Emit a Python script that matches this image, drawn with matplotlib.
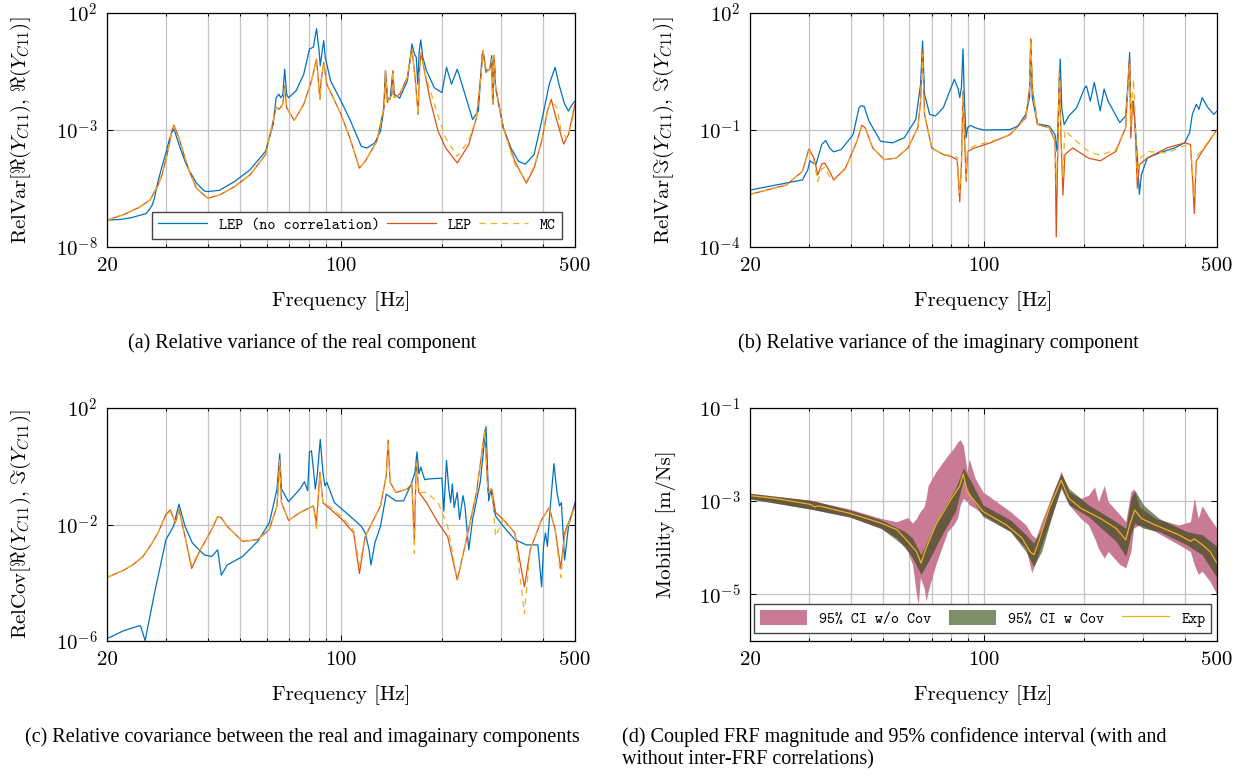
import numpy as np
import matplotlib
matplotlib.use('Agg')
import matplotlib.pyplot as plt
from matplotlib.ticker import FixedLocator, FixedFormatter, NullFormatter, NullLocator
from matplotlib.patches import Patch
from matplotlib.lines import Line2D

plt.rcParams['font.family'] = 'cmr10'
plt.rcParams['mathtext.fontset'] = 'cm'
plt.rcParams['axes.formatter.use_mathtext'] = True

BLUE = '#0072BD'
ORANGE = '#D95319'
GOLD = '#EDB120'
PINK = '#C97B95'
GREEN = '#264308'

# ============================================================
# Data (values are log10 of the plotted quantity)
# ============================================================
# (a) RelVar of real part
a_f_nc = [20.0, 22.0, 23.6, 26.2, 26.9, 27.3, 27.7, 28.4, 29.2, 30.0,
          30.7, 31.2, 31.7, 32.8, 34.2, 35.1, 37.0, 39.0, 40.0, 43.3,
          48.1, 53.5, 59.5, 62.7, 64.0, 65.2, 66.1, 67.0, 67.9, 68.8,
          69.7, 73.4, 77.4, 80.5, 82.7, 84.5, 86.0, 86.7, 87.9, 88.8,
          89.7, 93.1, 100.0, 106.3, 115.0, 119.6, 126.2, 131.2, 134.0, 135.8,
          137.6, 140.2, 142.8, 144.3, 149.7, 157.8, 162.9, 165.6, 167.8, 169.5,
          171.3, 173.1, 175.5, 180.1, 189.9, 200.2, 206.6, 213.8, 222.5, 231.4,
          247.2, 257.2, 264.1, 266.2, 271.1, 278.4, 282.1, 284.3, 286.6, 289.6,
          305.4, 321.8, 339.2, 355.5, 377.2, 397.5, 419.0, 436.0, 447.6, 465.6,
          478.1, 490.9, 500.0]
a_v_nc = [-6.85, -6.82, -6.75, -6.57, -6.35, -6.21, -5.92, -5.20, -4.56, -3.98,
          -3.41, -3.12, -2.95, -3.62, -4.34, -4.70, -5.27, -5.60, -5.63, -5.58,
          -5.20, -4.70, -3.91, -2.76, -1.62, -1.47, -1.62, -1.50, -0.40, -1.47,
          -1.62, -1.33, -0.61, 0.46, 0.54, 1.33, 0.39, -0.25, 0.39, 0.82,
          0.11, -0.90, -1.76, -2.55, -3.70, -3.77, -3.55, -3.05, -2.19, -0.47,
          -1.62, -1.69, -0.50, -1.47, -1.64, -0.90, 0.68, 0.25, 0.11, -1.04,
          0.39, 0.85, 0.11, -0.47, -1.19, -1.40, -0.32, -1.04, -0.40, -1.19,
          -2.55, -2.19, 0.25, 0.32, -0.47, -0.40, 0.18, -1.90, 0.18, -1.19,
          -2.91, -3.77, -4.34, -4.46, -4.05, -2.62, -1.04, -0.32, -1.04, -1.90,
          -2.19, -1.90, -1.76]
a_f_lep = [20.0, 22.4, 25.0, 26.9, 28.4, 29.2, 30.0, 30.7, 31.2, 31.7,
           32.8, 34.2, 35.1, 37.0, 40.0, 43.3, 48.1, 53.5, 59.5, 62.7,
           64.0, 65.2, 67.0, 67.9, 68.8, 72.5, 77.4, 81.6, 84.5, 86.5,
           87.2, 88.8, 90.7, 100.0, 106.3, 113.5, 118.1, 127.9, 134.7, 135.8,
           137.6, 142.0, 142.8, 144.3, 149.7, 157.8, 162.9, 166.4, 170.0, 171.8,
           173.6, 177.8, 184.9, 195.0, 205.5, 222.5, 240.8, 253.9, 262.0, 265.5,
           271.1, 278.4, 282.1, 283.6, 286.6, 289.6, 305.4, 330.6, 357.9, 377.2,
           397.5, 413.5, 424.6, 436.0, 453.5, 462.3, 478.1, 500.0]
a_v_lep = [-6.85, -6.62, -6.30, -5.99, -5.35, -4.92, -4.25, -3.62, -3.05, -2.79,
           -3.34, -4.20, -4.70, -5.49, -5.92, -5.78, -5.42, -4.92, -4.05, -2.62,
           -2.02, -2.12, -1.90, -1.11, -2.05, -2.59, -1.90, -0.90, 0.03, -1.69,
           -0.90, -0.11, -1.04, -2.33, -3.34, -4.63, -4.34, -3.48, -1.97, -0.47,
           -1.83, -1.47, -0.47, -1.62, -1.47, -0.75, 0.46, -0.75, -2.33, -0.32,
           0.32, -0.54, -1.76, -3.05, -3.77, -4.41, -3.62, -2.48, -0.61, 0.39,
           -0.54, -0.40, 0.03, -1.83, 0.18, -1.19, -2.91, -4.34, -5.27, -4.63,
           -3.48, -2.19, -1.69, -2.33, -3.19, -3.60, -3.19, -1.90]
a_f_mc = [20.0, 22.4, 25.0, 26.9, 28.4, 29.2, 30.0, 30.7, 31.2, 31.7,
          32.8, 34.2, 35.1, 37.0, 40.0, 43.3, 48.1, 53.5, 59.5, 62.7,
          64.0, 65.2, 67.0, 67.9, 68.8, 72.5, 77.4, 81.6, 84.5, 86.5,
          87.2, 88.8, 90.7, 100.0, 106.3, 113.5, 118.1, 127.9, 134.7, 135.8,
          137.6, 142.0, 142.8, 144.3, 149.7, 157.8, 162.9, 166.4, 170.0, 171.8,
          173.6, 177.8, 184.9, 195.0, 205.5, 222.5, 240.8, 253.9, 262.0, 265.5,
          271.1, 278.4, 282.1, 283.6, 286.6, 289.6, 305.4, 330.6, 357.9, 377.2,
          397.5, 413.5, 424.6, 441.8, 453.5, 471.8, 485.0, 500.0]
a_v_mc = [-6.85, -6.62, -6.30, -5.99, -5.35, -4.92, -4.25, -3.62, -3.08, -2.85,
          -3.34, -4.20, -4.70, -5.49, -5.92, -5.78, -5.42, -4.92, -4.05, -2.62,
          -2.02, -2.12, -1.90, -1.11, -2.05, -2.59, -1.90, -0.90, 0.03, -1.69,
          -0.90, -0.11, -1.04, -2.33, -3.34, -4.63, -4.34, -3.48, -1.97, -0.47,
          -1.83, -1.47, -0.47, -1.62, -1.47, -0.75, 0.46, -0.75, -2.33, -0.32,
          0.32, -0.54, -1.33, -2.40, -3.34, -4.13, -3.45, -2.48, -0.61, 0.39,
          -0.54, -0.40, 0.03, -1.83, 0.18, -1.19, -2.91, -4.48, -5.20, -4.56,
          -3.48, -2.19, -1.76, -2.05, -2.98, -3.37, -2.91, -2.05]

# (b) RelVar of imaginary part
b_f_nc = [20.0, 25.7, 28.7, 29.8, 30.2, 31.5, 32.8, 33.7, 34.6, 35.6,
          37.5, 40.7, 42.4, 43.0, 43.9, 45.4, 49.2, 53.4, 57.9, 62.7,
          64.8, 65.7, 66.6, 69.0, 71.8, 75.8, 80.0, 81.8, 84.0, 84.9,
          85.9, 86.8, 87.7, 88.7, 89.6, 91.6, 94.1, 100.0, 120.0, 126.7,
          133.8, 137.4, 138.5, 140.0, 145.0, 157.3, 163.8, 166.0, 168.3, 169.7,
          171.5, 174.3, 180.0, 190.0, 200.6, 203.3, 208.8, 214.6, 223.5, 229.6,
          236.0, 255.8, 266.4, 271.6, 273.8, 276.0, 281.2, 288.8, 292.8, 296.8,
          309.2, 335.2, 373.5, 400.0, 414.0, 421.8, 433.4, 441.6, 451.4, 469.9,
          489.4, 500.0]
b_v_nc = [-2.54, -2.36, -2.28, -2.02, -1.79, -1.89, -1.37, -1.27, -1.46, -1.56,
          -1.50, -1.12, -0.43, -0.38, -0.39, -0.77, -1.29, -1.33, -1.20, -0.73,
          0.17, 1.28, -0.08, -0.60, -0.64, -0.43, 0.09, 0.30, 0.05, -0.17,
          0.09, 1.08, -0.26, -1.20, -0.94, -0.88, -0.94, -1.00, -0.99, -0.90,
          -0.60, -0.17, 1.31, -0.17, -0.84, -0.90, -1.12, -1.55, 0.00, 0.82,
          -0.43, -0.86, -0.64, -0.43, 0.07, 0.13, -0.26, 0.22, -0.51, 0.05,
          -0.26, -0.81, -0.64, 0.35, 0.99, -0.43, -0.26, -1.72, -2.65, -2.15,
          -1.72, -1.59, -1.46, -1.33, -1.07, -0.60, -0.34, -0.47, -0.17, -0.43,
          -0.60, -0.51]
b_f_lep = [20.0, 25.7, 28.7, 30.0, 31.1, 31.9, 32.8, 33.5, 34.6, 35.6,
           38.6, 41.8, 43.2, 44.2, 46.6, 50.5, 54.8, 59.4, 63.6, 64.8,
           65.7, 66.6, 70.0, 75.8, 80.0, 83.4, 84.9, 85.9, 86.8, 87.7,
           88.7, 89.6, 94.1, 104.8, 120.0, 133.8, 137.4, 138.5, 140.0, 145.0,
           157.3, 163.8, 165.1, 166.9, 168.7, 170.5, 172.9, 175.2, 184.9, 206.0,
           223.5, 249.0, 266.4, 272.3, 273.8, 276.0, 279.7, 283.6, 288.8, 292.8,
           309.2, 353.8, 400.0, 416.3, 421.8, 427.6, 433.4, 451.4, 500.0]
b_v_lep = [-2.65, -2.41, -2.06, -1.49, -1.72, -2.15, -1.87, -1.85, -2.06, -2.28,
           -1.98, -1.29, -0.88, -0.94, -1.46, -1.76, -1.72, -1.46, -0.94, -0.26,
           1.04, -0.60, -1.46, -1.63, -1.68, -1.76, -2.84, -1.89, 0.00, -1.12,
           -2.32, -1.55, -1.46, -1.33, -1.12, -0.69, 0.09, 1.34, 0.09, -0.86,
           -0.94, -1.29, -3.74, -1.55, 0.52, -1.12, -2.67, -1.63, -1.46, -1.72,
           -1.79, -1.55, -0.94, 0.61, 0.82, -1.20, -0.26, -0.69, -2.49, -1.89,
           -1.72, -1.46, -1.33, -1.37, -2.15, -3.14, -1.80, -1.55, -0.99]
b_f_mc = [20.0, 25.7, 28.7, 30.0, 31.1, 31.9, 32.8, 33.5, 34.6, 35.6,
          38.6, 41.8, 43.2, 44.2, 46.6, 50.5, 54.8, 59.4, 63.6, 64.8,
          65.7, 66.6, 70.0, 75.8, 80.0, 83.4, 84.9, 85.9, 86.8, 87.7,
          88.7, 89.6, 94.1, 104.8, 120.0, 133.8, 137.4, 138.5, 140.0, 145.0,
          157.3, 163.8, 165.1, 166.9, 168.7, 170.5, 172.9, 175.2, 184.9, 206.0,
          223.5, 249.0, 266.4, 272.3, 273.8, 276.0, 281.2, 285.0, 288.8, 292.8,
          309.2, 353.8, 400.0, 416.3, 421.8, 427.6, 433.4, 451.4, 500.0]
b_v_mc = [-2.65, -2.41, -2.06, -1.52, -1.80, -2.32, -2.00, -1.95, -2.20, -2.30,
          -2.00, -1.29, -0.90, -0.95, -1.46, -1.76, -1.72, -1.46, -0.94, -0.30,
          0.95, -0.60, -1.46, -1.63, -1.65, -1.70, -2.60, -1.85, -0.10, -1.12,
          -2.20, -1.50, -1.40, -1.30, -1.12, -0.69, 0.09, 1.30, 0.09, -0.86,
          -0.94, -1.25, -2.40, -1.40, 0.45, -1.10, -2.20, -1.00, -1.20, -1.55,
          -1.65, -1.50, -0.94, 0.50, 0.70, -0.90, 0.30, -0.80, -2.20, -1.75,
          -1.55, -1.59, -1.40, -1.40, -2.00, -2.70, -1.70, -1.50, -1.00]

# (c) RelCov between real and imaginary parts
c_f_nc = [20.0, 22.4, 24.9, 25.2, 26.0, 27.7, 30.0, 31.6, 32.8, 34.2,
          36.0, 39.0, 41.1, 42.8, 43.9, 45.7, 50.8, 56.4, 61.1, 64.4,
          65.6, 66.4, 69.7, 75.4, 77.8, 79.5, 80.5, 81.6, 82.7, 83.8,
          84.9, 86.7, 88.3, 89.5, 90.7, 95.6, 106.3, 115.0, 118.1, 121.3,
          122.9, 126.2, 131.2, 136.5, 145.9, 153.7, 162.1, 166.4, 168.6, 170.9,
          173.1, 177.8, 184.9, 200.2, 202.8, 206.6, 209.9, 212.6, 215.0, 217.8,
          222.5, 226.0, 231.4, 234.5, 240.8, 247.2, 260.6, 271.1, 276.2, 279.9,
          289.6, 305.4, 330.6, 357.9, 387.3, 397.5, 402.7, 408.1, 413.5, 421.2,
          432.6, 441.8, 449.4, 455.3, 465.6, 478.1, 500.0]
c_v_nc = [-5.92, -5.65, -5.48, -5.48, -5.99, -4.38, -2.52, -2.06, -1.30, -2.06,
          -2.64, -3.04, -3.10, -2.87, -3.74, -3.39, -3.10, -2.58, -1.94, -0.78,
          0.43, -0.78, -1.22, -0.78, -0.53, -0.84, 0.49, 0.53, -0.09, -0.78,
          -0.32, 0.92, -0.20, -0.67, -0.55, -1.25, -1.71, -2.06, -2.29, -2.87,
          -3.39, -2.64, -2.06, -0.96, -1.19, -1.19, -0.61, -0.20, 0.49, -0.26,
          -0.03, -0.46, -0.43, -0.41, -1.54, 0.20, -0.78, -1.25, -0.61, -1.42,
          -0.90, -1.83, -1.01, -1.36, -2.87, -1.83, -0.55, 1.36, -1.19, -0.78,
          -1.71, -2.06, -2.52, -2.70, -2.70, -4.14, -2.75, -2.29, -2.75, -1.48,
          0.09, -0.90, -1.36, -1.25, -3.22, -2.06, -1.25]
c_f_lep = [20.0, 22.4, 24.0, 25.6, 27.0, 28.4, 30.0, 30.9, 32.0, 32.8,
           34.2, 35.8, 38.0, 41.1, 42.8, 43.9, 45.7, 50.8, 56.4, 61.1,
           64.4, 65.6, 66.4, 69.7, 75.4, 82.7, 84.5, 86.5, 88.3, 93.1,
           100.8, 109.1, 113.5, 118.1, 131.2, 136.5, 138.3, 140.2, 145.9, 157.8,
           162.9, 165.6, 167.8, 170.9, 180.1, 195.0, 208.2, 222.5, 234.5, 253.9,
           269.0, 274.7, 282.1, 289.6, 305.4, 330.6, 353.1, 367.3, 397.5, 419.0,
           436.0, 453.5, 465.6, 500.0]
c_v_lep = [-3.82, -3.57, -3.37, -3.10, -2.72, -2.29, -1.65, -1.50, -1.94, -1.48,
           -2.41, -3.51, -2.87, -2.17, -1.73, -1.77, -2.06, -2.58, -2.52, -2.17,
           -1.36, 0.26, -1.25, -1.86, -1.59, -1.36, -1.94, -0.20, -1.25, -1.48,
           -1.83, -2.29, -3.68, -2.41, -1.36, -0.32, 0.90, -0.55, -0.90, -0.78,
           -0.61, -2.52, 0.14, -0.90, -1.25, -1.94, -2.41, -3.91, -2.75, -0.90,
           1.25, -0.90, -0.78, -1.59, -1.83, -2.29, -4.14, -2.87, -1.83, -1.42,
           -2.17, -3.51, -2.29, -1.36]
c_f_mc = c_f_lep
c_v_mc = [-3.82, -3.57, -3.37, -3.10, -2.72, -2.29, -1.68, -1.55, -1.90, -1.52,
          -2.41, -3.40, -2.87, -2.17, -1.75, -1.77, -2.06, -2.58, -2.52, -2.17,
          -1.36, 0.20, -1.25, -1.86, -1.59, -1.36, -2.23, -0.25, -1.25, -1.40,
          -1.75, -2.20, -3.40, -2.41, -1.36, -0.32, 0.85, -0.55, -0.90, -0.78,
          -0.61, -2.99, 0.10, -0.90, -0.90, -1.25, -2.06, -3.91, -2.75, -0.90,
          1.20, -0.90, -0.78, -2.41, -1.83, -2.29, -5.07, -2.87, -1.83, -1.42,
          -2.17, -3.82, -2.40, -1.36]

# (d) coupled FRF magnitude with 95% confidence bands
d_f_exp = [20.0, 23.8, 30.4, 31.2, 32.1, 39.8, 49.4, 55.0, 58.1, 63.0,
           65.0, 67.3, 72.0, 80.2, 84.7, 87.0, 89.4, 99.6, 117.1, 130.4,
           137.7, 141.4, 145.3, 157.5, 170.8, 180.3, 195.5, 223.8, 249.2, 266.6,
           273.8, 283.7, 296.9, 326.4, 383.7, 416.2, 427.6, 451.3, 476.3, 500.0]
d_v_exp = [-2.88, -2.94, -3.07, -3.12, -3.10, -3.26, -3.47, -3.61, -3.79, -4.08,
           -4.33, -4.01, -3.51, -2.94, -2.69, -2.41, -2.80, -3.22, -3.51, -3.79,
           -4.08, -4.15, -3.93, -3.15, -2.55, -2.94, -3.15, -3.37, -3.58, -3.83,
           -3.51, -3.19, -3.37, -3.51, -3.72, -3.86, -3.81, -3.93, -4.08, -4.33]
d_f_cov = [20.0, 30.4, 39.8, 49.4, 58.1, 61.3, 65.0, 69.2, 76.0, 82.4,
           87.0, 91.8, 99.6, 120.3, 134.0, 141.4, 149.3, 161.8, 170.8, 180.3,
           206.3, 249.2, 266.6, 276.1, 283.7, 301.0, 335.4, 405.0, 451.3, 500.0]
d_lo_cov = [-2.95, -3.17, -3.34, -3.58, -3.97, -4.22, -4.57, -4.22, -3.65, -3.22,
            -2.55, -2.90, -3.33, -3.65, -4.08, -4.40, -4.08, -3.22, -2.69, -3.08,
            -3.33, -3.86, -4.18, -3.72, -3.47, -3.58, -3.65, -3.93, -4.15, -4.64]
d_hi_cov = [-2.83, -2.98, -3.19, -3.40, -3.65, -3.79, -4.15, -3.72, -3.15, -2.73,
            -2.29, -2.58, -3.08, -3.40, -3.72, -3.90, -3.58, -2.80, -2.41, -2.73,
            -3.08, -3.44, -3.58, -2.94, -2.76, -3.08, -3.37, -3.65, -3.72, -3.97]
d_f_nocov = [20.0, 30.4, 39.8, 49.4, 55.0, 59.3, 61.3, 63.0, 63.8, 64.7,
             66.4, 67.3, 68.3, 72.0, 78.1, 81.3, 83.6, 85.2, 87.0, 89.4,
             90.6, 94.4, 99.6, 120.3, 134.0, 139.5, 143.4, 149.3, 161.8, 170.8,
             180.3, 195.5, 206.3, 214.9, 220.7, 229.9, 236.2, 256.0, 266.6, 276.1,
             281.4, 292.9, 326.4, 383.7, 416.2, 427.6, 439.3, 451.3, 476.3, 500.0]
d_lo_nocov = [-2.95, -3.17, -3.34, -3.59, -3.79, -4.08, -4.36, -5.00, -5.21, -4.64,
              -4.86, -5.14, -4.93, -4.36, -3.65, -3.51, -3.37, -3.08, -2.94, -3.01,
              -3.08, -3.15, -3.29, -3.65, -4.01, -4.54, -4.29, -3.93, -3.22, -2.73,
              -3.08, -3.37, -3.51, -3.79, -4.01, -4.22, -4.08, -4.36, -4.43, -4.08,
              -3.58, -3.51, -3.65, -3.93, -4.08, -4.36, -4.57, -4.50, -4.72, -5.00]
d_hi_nocov = [-2.83, -2.98, -3.17, -3.37, -3.44, -3.35, -3.47, -3.37, -3.29, -3.22,
              -3.12, -2.94, -2.66, -2.37, -2.02, -1.87, -1.73, -1.68, -1.80, -2.37,
              -2.09, -2.51, -2.80, -3.22, -3.51, -3.72, -3.79, -3.44, -2.80, -2.36,
              -2.80, -2.94, -2.87, -2.69, -3.01, -2.66, -3.01, -3.29, -3.44, -2.80,
              -2.73, -3.12, -3.37, -3.51, -3.44, -2.93, -3.37, -3.10, -3.37, -3.58]

x_major = [20, 100, 500]
x_minor = [30, 40, 50, 60, 70, 80, 90, 200, 300, 400]


def p(v):
    return 10.0 ** np.asarray(v)


def style(ax, ylo, yhi, yticks, ylabel):
    ax.set_xscale('log')
    ax.set_yscale('log')
    ax.set_xlim(20, 500)
    ax.set_ylim(10.0 ** ylo, 10.0 ** yhi)
    ax.xaxis.set_major_locator(FixedLocator(x_major))
    ax.xaxis.set_major_formatter(FixedFormatter([str(v) for v in x_major]))
    ax.xaxis.set_minor_locator(FixedLocator(x_minor))
    ax.xaxis.set_minor_formatter(NullFormatter())
    ax.yaxis.set_major_locator(FixedLocator([10.0 ** k for k in yticks]))
    ax.yaxis.set_major_formatter(FixedFormatter([r'$10^{%d}$' % k for k in yticks]))
    ax.yaxis.set_minor_locator(NullLocator())
    ax.grid(True, which='both', axis='x', color='#c4c4c4', lw=0.9)
    ax.grid(True, which='major', axis='y', color='#c4c4c4', lw=0.9)
    ax.set_axisbelow(True)
    ax.tick_params(which='both', direction='in', top=True, right=True,
                   labelsize=15, pad=7, width=0.7)
    ax.tick_params(which='major', length=4)
    ax.tick_params(which='minor', length=2.5)
    for s in ax.spines.values():
        s.set_linewidth(0.9)
    ax.set_xlabel('Frequency [Hz]', fontsize=15)
    ax.xaxis.set_label_coords(0.5, -0.19)
    ax.set_ylabel(ylabel, fontsize=15)
    ax.yaxis.set_label_coords(-0.158, 0.5)


W, H = 1252, 776


def rect(l, t, r, b):
    return [l / W, 1 - b / H, (r - l) / W, (b - t) / H]


fig = plt.figure(figsize=(12.52, 7.76), dpi=100)
ax_a = fig.add_axes(rect(107, 13, 575, 247))
ax_b = fig.add_axes(rect(750, 13, 1217, 247))
ax_c = fig.add_axes(rect(107, 408, 575, 641))
ax_d = fig.add_axes(rect(750, 408, 1217, 641))

leg_font = {'family': 'cmtt10', 'size': 11}
mc_dash = (0, (5, 4))

# ---- (a)
ax_a.plot(a_f_nc, p(a_v_nc), color=BLUE, lw=0.9, label='LEP (no correlation)')
ax_a.plot(a_f_lep, p(a_v_lep), color=ORANGE, lw=0.9, label='LEP')
ax_a.plot(a_f_mc, p(a_v_mc), color=GOLD, lw=0.9, ls=mc_dash, label='MC')
style(ax_a, -8, 2, [-8, -3, 2], r'RelVar$[\Re(Y_{C11}),\,\Re(Y_{C11})]$')
ax_a.legend(loc='lower left', bbox_to_anchor=(0.096, 0.035, 0.876, 0.13), mode='expand',
            ncol=3, prop=leg_font, fancybox=False, edgecolor='#444444', framealpha=1,
            handlelength=3.2, borderaxespad=0, columnspacing=0.6)

# ---- (b)
ax_b.plot(b_f_nc, p(b_v_nc), color=BLUE, lw=0.9)
ax_b.plot(b_f_lep, p(b_v_lep), color=ORANGE, lw=0.9)
ax_b.plot(b_f_mc, p(b_v_mc), color=GOLD, lw=0.9, ls=mc_dash)
style(ax_b, -4, 2, [-4, -1, 2], r'RelVar$[\Im(Y_{C11}),\,\Im(Y_{C11})]$')

# ---- (c)
ax_c.plot(c_f_nc, p(c_v_nc), color=BLUE, lw=0.9)
ax_c.plot(c_f_lep, p(c_v_lep), color=ORANGE, lw=0.9)
ax_c.plot(c_f_mc, p(c_v_mc), color=GOLD, lw=0.9, ls=mc_dash)
style(ax_c, -6, 2, [-6, -2, 2], r'RelCov$[\Re(Y_{C11}),\,\Im(Y_{C11})]$')

# ---- (d)
ax_d.fill_between(d_f_nocov, p(d_lo_nocov), p(d_hi_nocov), color=PINK, lw=0)
ax_d.fill_between(d_f_cov, p(d_lo_cov), p(d_hi_cov), color=GREEN, alpha=0.6, lw=0)
ax_d.plot(d_f_exp, p(d_v_exp), color=GOLD, lw=0.9)
style(ax_d, -6, -1, [-5, -3, -1], 'Mobility [m/Ns]')
handles = [Patch(facecolor=PINK, label='95% CI w/o Cov'),
           Patch(facecolor=GREEN, alpha=0.6, label='95% CI w Cov'),
           Line2D([], [], color=GOLD, lw=0.9, label='Exp')]
ax_d.legend(handles=handles, loc='lower left', bbox_to_anchor=(0.008, 0.035, 0.98, 0.14),
            mode='expand', ncol=3, prop=leg_font, fancybox=False, edgecolor='#444444',
            framealpha=1, handlelength=3.1, handleheight=1.1, borderaxespad=0,
            columnspacing=0.4)

# ---- captions
cap = {'family': 'Liberation Serif', 'fontsize': 14.5, 'va': 'center'}
fig.text(302 / W, 1 - 343 / H, '(a) Relative variance of the real component', ha='center', **cap)
fig.text(938 / W, 1 - 343 / H, '(b) Relative variance of the imaginary component', ha='center', **cap)
fig.text(302 / W, 1 - 737 / H, '(c) Relative covariance between the real and imagainary components',
         ha='center', **cap)
fig.text(622 / W, 1 - 737 / H, '(d) Coupled FRF magnitude and 95% confidence interval (with and',
         ha='left', **cap)
fig.text(622 / W, 1 - 760 / H, 'without inter-FRF correlations)', ha='left', **cap)

plt.savefig('out.png', dpi=100)
plt.close()
